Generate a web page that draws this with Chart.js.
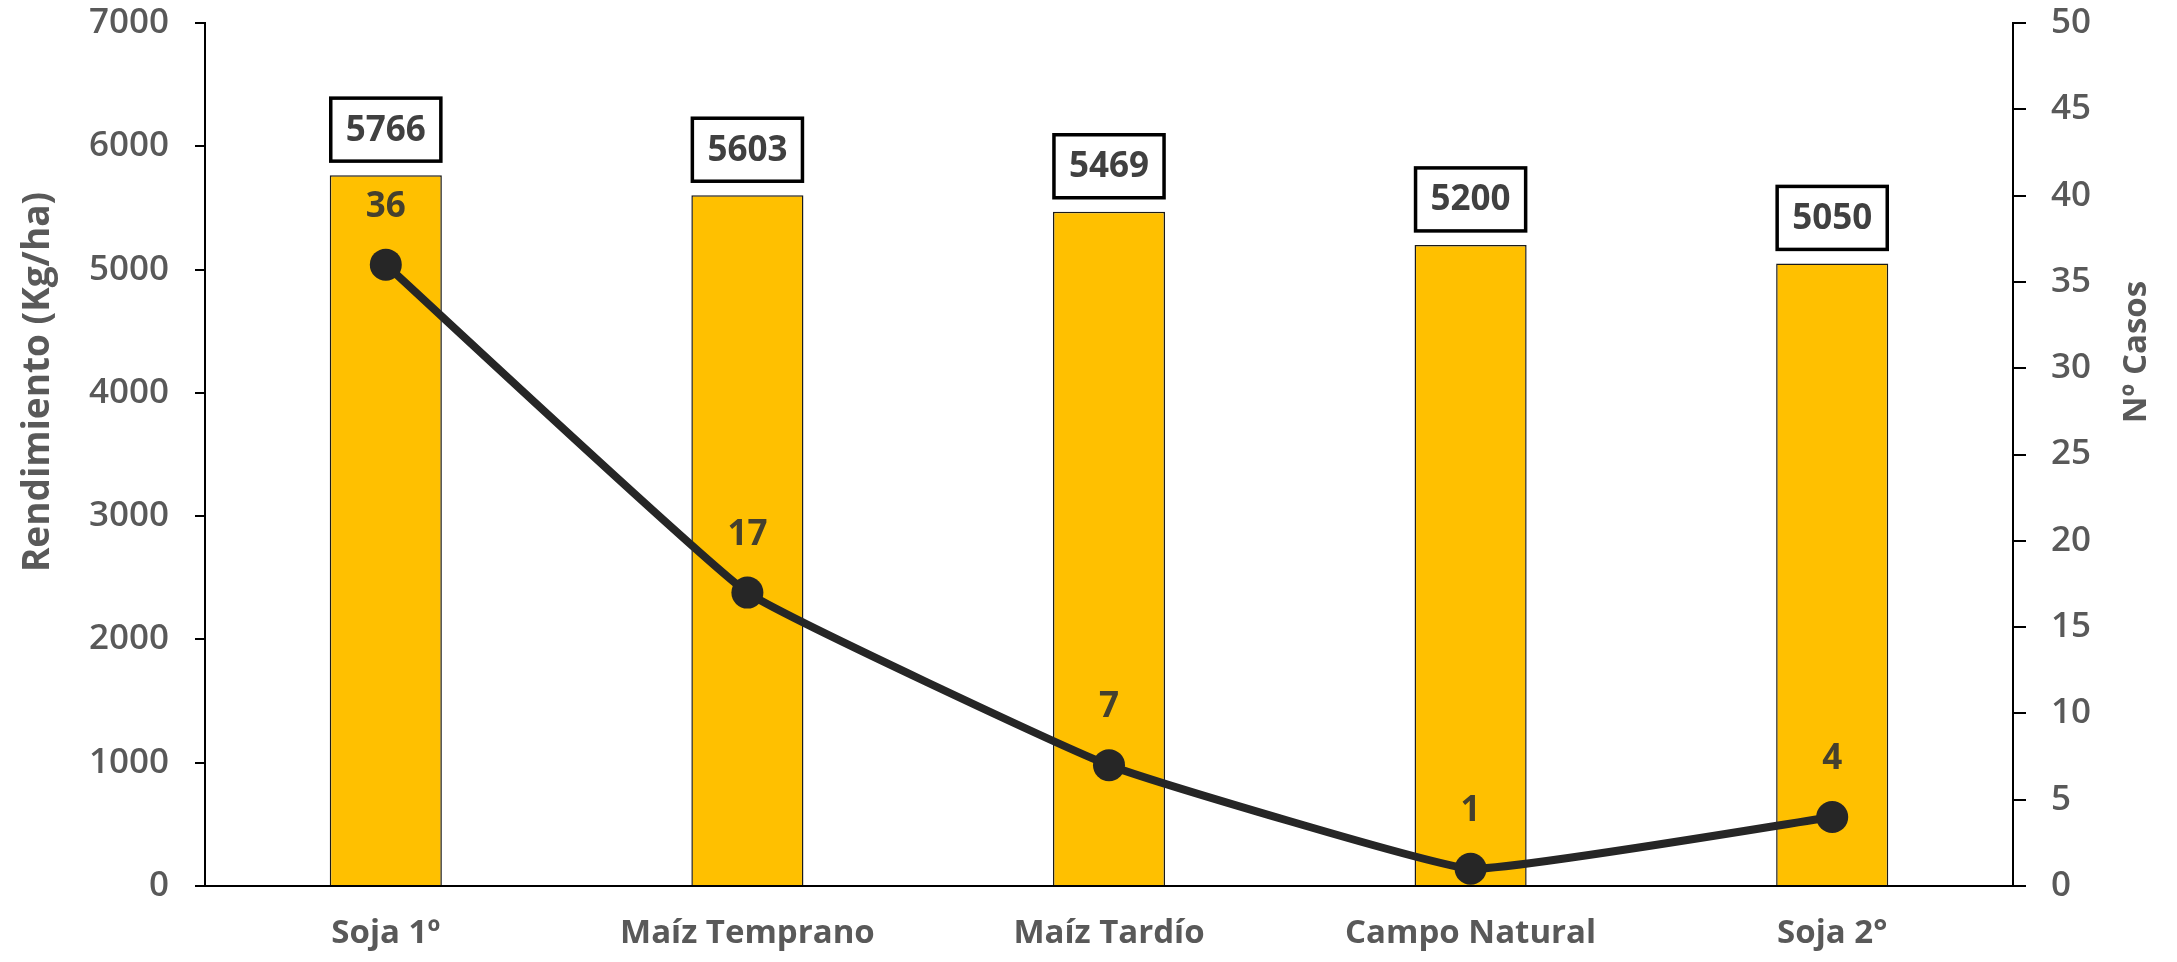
<!DOCTYPE html>
<html>
<head>
<meta charset="utf-8">
<script src="https://cdn.jsdelivr.net/npm/chart.js@4.4.1/dist/chart.umd.min.js"></script>
<style>
  html, body { margin: 0; padding: 0; background: #fff; }
  #wrap { width: 2177px; height: 962px; }
</style>
</head>
<body>
<div id="wrap"><canvas id="chart"></canvas></div>
<script>
const categories = ["Soja 1º", "Maíz Temprano", "Maíz Tardío", "Campo Natural", "Soja 2°"];
const rendimiento = [5766, 5603, 5469, 5200, 5050];
const casos = [36, 17, 7, 1, 4];
const yTicks = [0, 1000, 2000, 3000, 4000, 5000, 6000, 7000];
const y1Ticks = [0, 5, 10, 15, 20, 25, 30, 35, 40, 45, 50];

const tickFont = { family: "'Open Sans', sans-serif", size: 35, weight: "600" };
const greyText = "#595959";
const labelText = "#404040";

// boxed values over the bars, plain values over the line points
const valueLabels = {
  id: "valueLabels",
  afterDatasetsDraw(chart) {
    const ctx = chart.ctx;
    ctx.save();
    ctx.textAlign = "center";
    ctx.textBaseline = "middle";
    ctx.font = "bold 35px 'Open Sans', sans-serif";

    chart.getDatasetMeta(1).data.forEach((bar, i) => {
      const w = bar.width - 2;
      const h = 63;
      const x = bar.x - w / 2;
      const y = bar.y - 14 - h;
      ctx.fillStyle = "#fff";
      ctx.fillRect(x, y, w, h);
      ctx.lineWidth = 3.5;
      ctx.strokeStyle = "#000";
      ctx.strokeRect(x, y, w, h);
      ctx.fillStyle = labelText;
      ctx.fillText(String(rendimiento[i]), bar.x, y + h / 2 + 1);
    });

    chart.getDatasetMeta(0).data.forEach((pt, i) => {
      ctx.fillStyle = "#45402e";
      ctx.fillText(String(casos[i]), pt.x, pt.y - 58);
    });
    ctx.restore();
  }
};

// axis titles, both read bottom to top
const axisTitles = {
  id: "axisTitles",
  afterDraw(chart) {
    const ctx = chart.ctx;
    const draw = (text, x, y, size) => {
      ctx.save();
      ctx.translate(x, y);
      ctx.rotate(-Math.PI / 2);
      ctx.textAlign = "center";
      ctx.textBaseline = "middle";
      ctx.font = "bold " + size + "px 'Open Sans', sans-serif";
      ctx.fillStyle = greyText;
      ctx.fillText(text, 0, 0);
      ctx.restore();
    };
    draw("Rendimiento (Kg/ha)", 38, 382, 37);
    draw("Nº Casos", 2137, 352, 33);
  }
};

new Chart(document.getElementById("chart"), {
  data: {
    labels: categories,
    datasets: [
      {
        type: "line",
        label: "Nº Casos",
        data: casos,
        yAxisID: "y1",
        borderColor: "#262626",
        backgroundColor: "#262626",
        borderWidth: 8,
        pointRadius: 16,
        pointBackgroundColor: "#262626",
        pointBorderWidth: 0,
        tension: 0.1,
        order: 0
      },
      {
        type: "bar",
        label: "Rendimiento",
        data: rendimiento,
        yAxisID: "y",
        backgroundColor: "#FFC000",
        borderColor: "#1a1a1a",
        borderWidth: 1.5,
        barPercentage: 0.31,
        categoryPercentage: 1,
        order: 1
      }
    ]
  },
  options: {
    responsive: true,
    maintainAspectRatio: false,
    animation: false,
    layout: { padding: { top: 23, left: 0, right: 0, bottom: 0 } },
    plugins: {
      legend: { display: false },
      tooltip: { enabled: false }
    },
    scales: {
      x: {
        grid: { display: false },
        border: { display: true, color: "#000", width: 2 },
        ticks: {
          color: greyText,
          padding: 20,
          maxRotation: 0,
          font: { family: "'Open Sans', sans-serif", size: 33, weight: "bold" }
        },
        afterFit(scale) { scale.height = 76; }
      },
      y: {
        position: "left",
        min: 0,
        max: 7000,
        afterBuildTicks(scale) { scale.ticks = yTicks.map(v => ({ value: v })); },
        grid: { drawOnChartArea: false, tickLength: 10, color: "#000", lineWidth: 2 },
        border: { display: true, color: "#000", width: 2 },
        ticks: { color: greyText, padding: 26, font: tickFont, callback: v => String(v) },
        afterFit(scale) {
          scale.width = 205;
          scale.paddingTop = 0;
          scale.paddingBottom = 0;
        }
      },
      y1: {
        position: "right",
        min: 0,
        max: 50,
        afterBuildTicks(scale) { scale.ticks = y1Ticks.map(v => ({ value: v })); },
        grid: { drawOnChartArea: false, tickLength: 13, color: "#000", lineWidth: 2 },
        border: { display: true, color: "#000", width: 2 },
        ticks: { color: greyText, padding: 25, font: tickFont, callback: v => String(v) },
        afterFit(scale) {
          scale.width = 164;
          scale.paddingTop = 0;
          scale.paddingBottom = 0;
        }
      }
    }
  },
  plugins: [valueLabels, axisTitles]
});
</script>
</body>
</html>
